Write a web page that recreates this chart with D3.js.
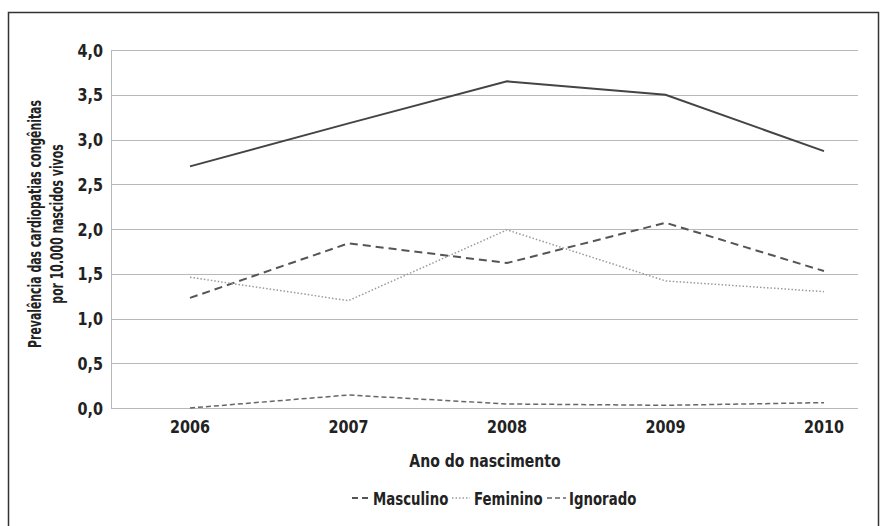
<!DOCTYPE html>
<html>
<head>
<meta charset="utf-8">
<script src="https://cdn.jsdelivr.net/npm/d3@7"></script>
<style>
  body { margin: 0; background: #fff; }
  svg text { font-family: "DejaVu Sans", sans-serif; font-weight: bold; fill: #222; }
</style>
</head>
<body>
<svg id="chart" width="880" height="526"></svg>
<script>
// dados
const anos = ["2006", "2007", "2008", "2009", "2010"];
const total = [2.70, 3.18, 3.65, 3.50, 2.87];
const masculino = [1.23, 1.84, 1.62, 2.07, 1.53];
const feminino = [1.46, 1.20, 1.99, 1.42, 1.30];
const ignorado = [0.00, 0.145, 0.045, 0.03, 0.06];
const yTicks = [0, 0.5, 1, 1.5, 2, 2.5, 3, 3.5, 4];

const svg = d3.select("#chart");
const aperto = 0.8; // fonte condensada

// moldura
svg.append("rect")
  .attr("x", 8.5).attr("y", 12.5)
  .attr("width", 870).attr("height", 522)
  .attr("fill", "none")
  .attr("stroke", "#333")
  .attr("stroke-width", 1.5);

const plotLeft = 111, plotRight = 858;
const x = d3.scalePoint().domain(anos).range([190, 824]);
const y = d3.scaleLinear().domain([0, 4]).range([408, 50]);

// linhas de grade
svg.append("g").selectAll("line")
  .data(yTicks)
  .enter().append("line")
  .attr("x1", plotLeft).attr("x2", plotRight)
  .attr("y1", d => Math.round(y(d)) + 0.5)
  .attr("y2", d => Math.round(y(d)) + 0.5)
  .attr("stroke", "#b8b8b8")
  .attr("stroke-width", 1);

svg.append("line")
  .attr("x1", plotLeft + 0.5).attr("x2", plotLeft + 0.5)
  .attr("y1", y(4)).attr("y2", y(0))
  .attr("stroke", "#b8b8b8");

// eixo y
svg.append("g").selectAll("text")
  .data(yTicks)
  .enter().append("text")
  .attr("transform", d => "translate(103," + (y(d) + 6.5) + ") scale(" + aperto + ",1)")
  .attr("text-anchor", "end")
  .attr("font-size", 18)
  .text(d => d3.format(".1f")(d).replace(".", ","));

// eixo x
svg.append("g").selectAll("text")
  .data(anos)
  .enter().append("text")
  .attr("transform", d => "translate(" + x(d) + ",433) scale(" + aperto + ",1)")
  .attr("text-anchor", "middle")
  .attr("font-size", 18)
  .text(d => d);

svg.append("text")
  .attr("transform", "translate(485,467) scale(0.78,1)")
  .attr("text-anchor", "middle")
  .attr("font-size", 18)
  .text("Ano do nascimento");

const yTitle = svg.append("text")
  .attr("transform", "translate(41,224) rotate(-90) scale(0.605,1)")
  .attr("text-anchor", "middle")
  .attr("font-size", 18);
yTitle.append("tspan").attr("x", 0).attr("dy", 0).text("Prevalência das cardiopatias congênitas");
yTitle.append("tspan").attr("x", 0).attr("dy", 22).text("por 10.000 nascidos vivos");

// séries
const series = [
  { nome: "Total", valores: total, cor: "#444", largura: 2, traco: null },
  { nome: "Masculino", valores: masculino, cor: "#555", largura: 2, traco: "8,5" },
  { nome: "Feminino", valores: feminino, cor: "#9a9a9a", largura: 1.5, traco: "1.5,2" },
  { nome: "Ignorado", valores: ignorado, cor: "#666", largura: 1.5, traco: "5,3" }
];

const line = d3.line()
  .x((d, i) => x(anos[i]))
  .y(d => y(d));

svg.append("g").selectAll("path")
  .data(series)
  .enter().append("path")
  .attr("d", d => line(d.valores))
  .attr("fill", "none")
  .attr("stroke", d => d.cor)
  .attr("stroke-width", d => d.largura)
  .attr("stroke-dasharray", d => d.traco);

// legenda
const legenda = [
  { s: series[1], x0: 352, x1: 368, tx: 373, traco: "6,4" },
  { s: series[2], x0: 452, x1: 470, tx: 474, traco: "1.5,2" },
  { s: series[3], x0: 547, x1: 566, tx: 569, traco: "5,3" }
];
const lg = svg.append("g").selectAll("g")
  .data(legenda)
  .enter().append("g");
lg.append("line")
  .attr("x1", d => d.x0).attr("x2", d => d.x1)
  .attr("y1", 498).attr("y2", 498)
  .attr("stroke", d => d.s.cor)
  .attr("stroke-width", d => d.s.largura)
  .attr("stroke-dasharray", d => d.traco);
lg.append("text")
  .attr("transform", d => "translate(" + d.tx + ",504.5) scale(0.74,1)")
  .attr("font-size", 18)
  .text(d => d.s.nome);
</script>
</body>
</html>
